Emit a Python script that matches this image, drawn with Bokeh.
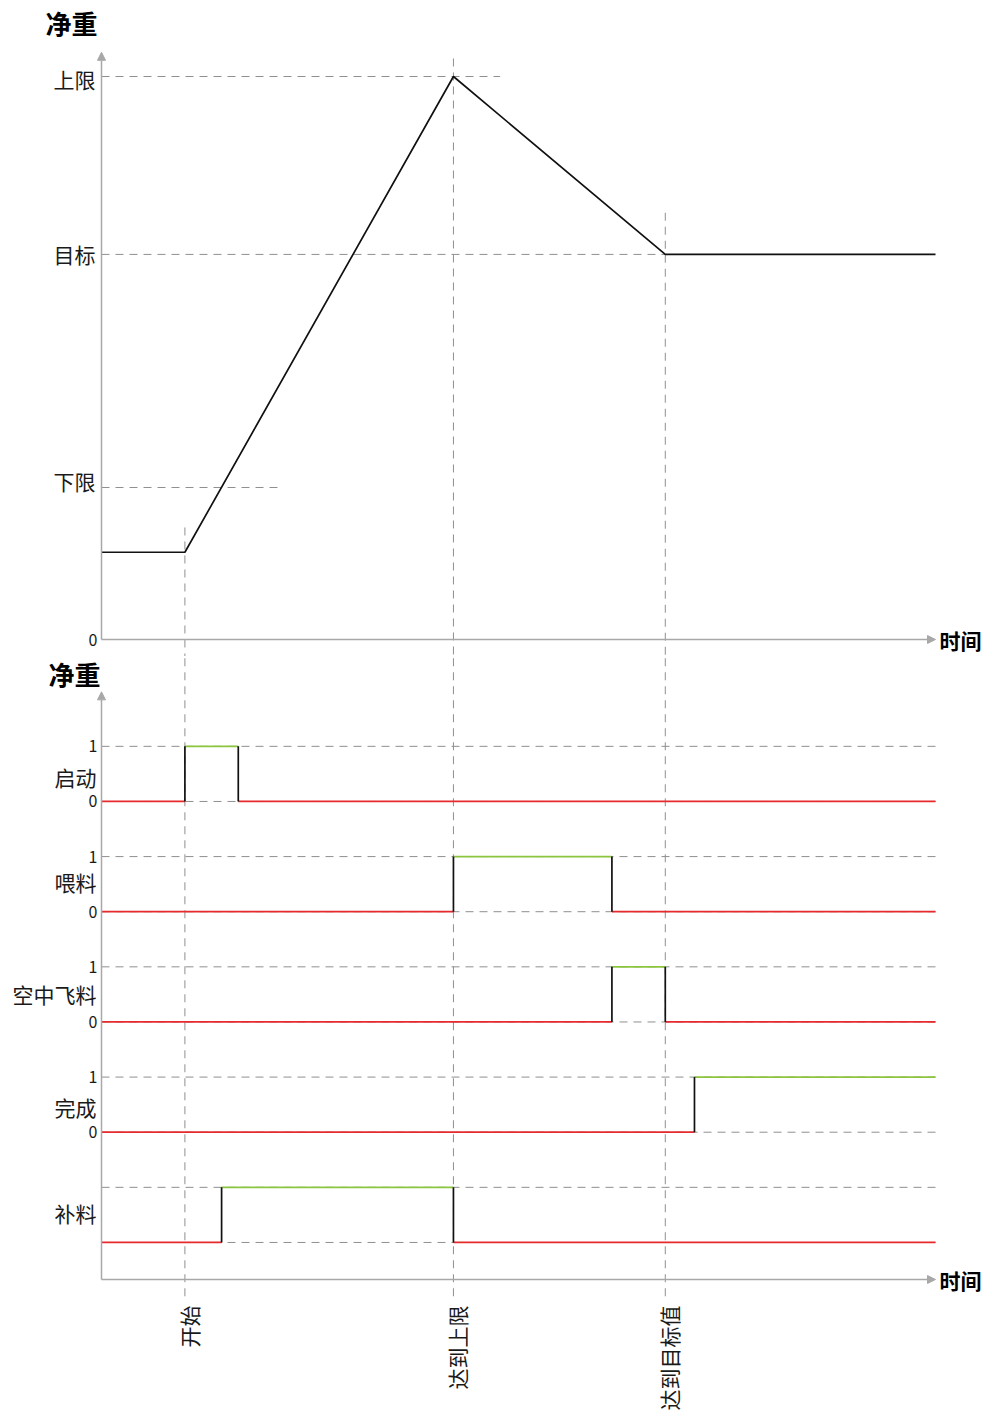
import math
from bokeh.plotting import figure
from bokeh.models import Range1d, Arrow, NormalHead
from bokeh.layouts import column
from bokeh.core.properties import value
from bokeh.embed import file_html
from bokeh.resources import INLINE

# ---------------- data ----------------
events = ["开始", "达到上限", "达到目标值"]
event_t = [10.0, 42.2, 67.6]
t_end = 100.0

weight_labels = ["0", "下限", "目标", "上限"]
weight_values = [0.0, 27.0, 68.4, 100.0]
weight_ref_extent = [None, 21.1, 67.6, 47.8]   # how far each dashed reference line runs
curve_t = [0.0, 10.0, 42.2, 67.6, 100.0]
curve_w = [15.5, 15.5, 100.0, 68.4, 68.4]
event_guide_top = [19.9, 103.2, 75.8]           # where each vertical guide starts (weight units)

signals = ["启动", "喂料", "空中飞料", "完成", "补料"]
sig_on = [10.0, 42.2, 61.2, 71.1, 14.4]
sig_off = [16.4, 61.2, 67.6, 100.0, 42.2]
sig_show_ticks = [True, True, True, True, False]

# ---------------- style ----------------
FONT = value("Noto Sans CJK SC")
AX = "#a8a8a8"
DASH = "#8f8f8f"
RED = "#e62a2e"
GREEN = "#8cc63f"
BLACK = "#111111"
TXT = "#1a1a1a"
W = 986
PX_T = 8.34          # px per time unit
X0 = -101 / PX_T
XR = Range1d(X0, X0 + W / PX_T)

# ---------------- top panel ----------------
H1 = 656
PX_W = 5.63
Y0 = -(H1 - 639) / PX_W
p1 = figure(width=W, height=H1, x_range=XR, y_range=Range1d(Y0, Y0 + H1 / PX_W),
            x_axis_type=None, y_axis_type=None, output_backend="svg",
            toolbar_location=None, min_border=0, outline_line_color=None)

# horizontal references
for v, ext in zip(weight_values, weight_ref_extent):
    if ext is not None:
        p1.segment(x0=[0], y0=[v], x1=[ext], y1=[v], line_color=DASH,
                   line_dash="8 6", line_width=1)
# vertical guides
p1.segment(x0=event_t, y0=event_guide_top, x1=event_t, y1=[Y0 - 5] * 3,
           line_color=DASH, line_dash="8 6", line_width=1)

p1.line(curve_t, curve_w, line_color=BLACK, line_width=1.7)

p1.add_layout(Arrow(end=NormalHead(size=8, fill_color=AX, line_color=AX),
                    x_start=0, y_start=0, x_end=0, y_end=104.3,
                    line_color=AX, line_width=1.5))
p1.add_layout(Arrow(end=NormalHead(size=8, fill_color=AX, line_color=AX),
                    x_start=0, y_start=0, x_end=t_end, y_end=0,
                    line_color=AX, line_width=1.5))

p1.text(x=[0], y=[weight_values[0]], text=[weight_labels[0]], x_offset=-4,
        text_align="right", text_baseline="middle", text_font=FONT,
        text_font_size="16px", text_color=TXT)
p1.text(x=[0] * 3, y=weight_values[1:], text=weight_labels[1:], x_offset=-6,
        y_offset=[-6, 0, 2],
        text_align="right", text_baseline="middle", text_font=FONT,
        text_font_size="21px", text_color=TXT)
p1.text(x=[0], y=[109.6], text=["净重"], x_offset=-4, text_align="right",
        text_baseline="middle", text_font=FONT, text_font_size="26px",
        text_font_style="bold", text_color="#000000")
p1.text(x=[t_end], y=[0], text=["时间"], x_offset=4, text_align="left",
        text_baseline="middle", text_font=FONT, text_font_size="21px",
        text_font_style="bold", text_color="#000000")

# ---------------- bottom panel ----------------
H2 = 1416 - H1
PX_S = 110.25
YB0 = -(1416 - 1279) / PX_S
p2 = figure(width=W, height=H2, x_range=XR, y_range=Range1d(YB0, YB0 + H2 / PX_S),
            x_axis_type=None, y_axis_type=None, output_backend="svg",
            toolbar_location=None, min_border=0, outline_line_color=None)

n = len(signals)
BASE_OFF = 0.336
AMP = 0.5
bases = [BASE_OFF + (n - 1 - i) for i in range(n)]
name_dy = [3, -2.5, 0, 2, -1.5]

# dashed level lines
for b in bases:
    p2.segment(x0=[0, 0], y0=[b, b + AMP], x1=[t_end, t_end], y1=[b, b + AMP],
               line_color=DASH, line_dash="8 6", line_width=1)
# vertical guides
p2.segment(x0=event_t, y0=[YB0 + H2 / PX_S + 1] * 3, x1=event_t,
           y1=[-21 / PX_S] * 3, line_color=DASH, line_dash="8 6", line_width=1)

# signal traces
for b, on, off in zip(bases, sig_on, sig_off):
    lows_x0 = [0]
    lows_x1 = [on]
    if off < t_end:
        lows_x0.append(off)
        lows_x1.append(t_end)
    p2.segment(x0=lows_x0, y0=[b] * len(lows_x0), x1=lows_x1, y1=[b] * len(lows_x0),
               line_color=RED, line_width=1.7)
    p2.segment(x0=[on], y0=[b + AMP], x1=[off], y1=[b + AMP],
               line_color=GREEN, line_width=1.7)
    edges = [on] + ([off] if off < t_end else [])
    p2.segment(x0=edges, y0=[b] * len(edges), x1=edges, y1=[b + AMP] * len(edges),
               line_color=BLACK, line_width=1.7)

p2.add_layout(Arrow(end=NormalHead(size=8, fill_color=AX, line_color=AX),
                    x_start=0, y_start=0, x_end=0, y_end=5.33,
                    line_color=AX, line_width=1.5))
p2.add_layout(Arrow(end=NormalHead(size=8, fill_color=AX, line_color=AX),
                    x_start=0, y_start=0, x_end=t_end, y_end=0,
                    line_color=AX, line_width=1.5))

tick_y, tick_t = [], []
for b, show in zip(bases, sig_show_ticks):
    if show:
        tick_y += [b + AMP, b]
        tick_t += ["1", "0"]
p2.text(x=[0] * len(tick_y), y=tick_y, text=tick_t, x_offset=-4,
        text_align="right", text_baseline="middle", text_font=FONT,
        text_font_size="16px", text_color=TXT)
p2.text(x=[0] * n, y=[b + AMP / 2 for b in bases], text=signals, x_offset=-5,
        y_offset=name_dy, text_align="right", text_baseline="middle", text_font=FONT,
        text_font_size="21px", text_color=TXT)
p2.text(x=[0], y=[5.497], text=["净重"], x_offset=-1, text_align="right",
        text_baseline="middle", text_font=FONT, text_font_size="26px",
        text_font_style="bold", text_color="#000000")
p2.text(x=[t_end], y=[0], text=["时间"], x_offset=4, text_align="left",
        text_baseline="middle", text_font=FONT, text_font_size="21px",
        text_font_style="bold", text_color="#000000")
p2.text(x=event_t, y=[-26 / PX_S] * 3, text=events, angle=math.pi / 2, x_offset=4,
        text_align="right", text_baseline="middle", text_font=FONT,
        text_font_size="21px", text_color=TXT)

layout = column(p1, p2, spacing=0)
open("out.html", "w").write(file_html(layout, INLINE))
